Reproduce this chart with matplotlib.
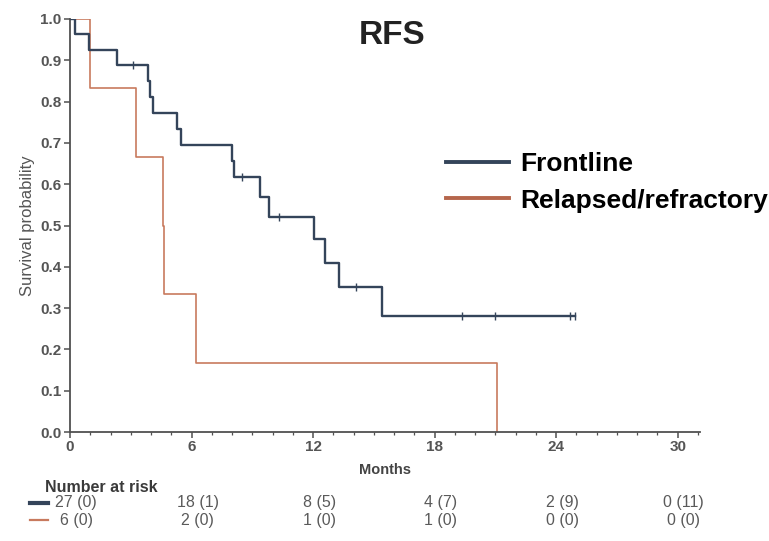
import matplotlib
matplotlib.use("Agg")
import matplotlib.pyplot as plt
from matplotlib.lines import Line2D
from matplotlib.patches import Rectangle
from matplotlib.transforms import blended_transform_factory

plt.rcParams['font.family'] = ['Liberation Sans', 'DejaVu Sans']

# Kaplan-Meier step data (months, survival probability)
front_t = [0, 0.25, 0.95, 2.3, 3.85, 3.95, 4.1, 5.3, 5.5, 8.0, 8.1, 9.4, 9.8, 12.05, 12.6, 13.3, 15.4, 24.95]
front_s = [1.0, 0.963, 0.926, 0.889, 0.850, 0.812, 0.773, 0.734, 0.696, 0.657, 0.618, 0.570, 0.520, 0.468, 0.410, 0.350, 0.280, 0.280]
front_cens = [3.1, 8.5, 10.3, 14.1, 19.35, 21.0, 24.7, 24.95]

relap_t = [0, 1.0, 3.25, 4.6, 4.65, 6.2, 21.1]
relap_s = [1.0, 0.833, 0.667, 0.5, 0.333, 0.167, 0.0]

risk_times = [0, 6, 12, 18, 24, 30]
risk_front = ["27 (0)", "18 (1)", "8 (5)", "4 (7)", "2 (9)", "0 (11)"]
risk_relap = ["6 (0)", "2 (0)", "1 (0)", "1 (0)", "0 (0)", "0 (0)"]

blue = "#34445a"
red = "#c87a5e"
grey = "#505050"

fig = plt.figure(figsize=(7.69, 5.41), dpi=100)
ax = fig.add_axes([70/769, 1 - 432/541, 630/769, 413/541])

ax.step(front_t, front_s, where="post", color=blue, lw=1.7, zorder=3)
ax.step(relap_t, relap_s, where="post", color=red, lw=1.2, zorder=2)

def surv_at(t, times, surv):
    s = surv[0]
    for ti, si in zip(times, surv):
        if ti <= t:
            s = si
    return s

ax.plot(front_cens, [surv_at(c, front_t, front_s) for c in front_cens],
        ls="none", marker="|", ms=6, mew=1.0, color=blue, zorder=4)

ax.set_xlim(0, 31.1)
ax.set_ylim(0, 1.0)
ax.set_xticks(range(0, 31, 6))
ax.set_xticks(range(0, 32), minor=True)
ax.set_yticks([i / 10 for i in range(11)])
ax.set_yticklabels([f"{i/10:.1f}" for i in range(11)])

for s in ["top", "right"]:
    ax.spines[s].set_visible(False)
for s in ["left", "bottom"]:
    ax.spines[s].set_color(grey)
    ax.spines[s].set_linewidth(1.3)
    ax.spines[s].set_clip_on(False)
ax.tick_params(which="major", length=4, width=1.1, color=grey, labelsize=11,
               labelcolor="#555555", pad=2)
ax.tick_params(which="minor", length=2.5, width=0.9, color=grey)
for lab in ax.get_xticklabels() + ax.get_yticklabels():
    lab.set_fontweight("bold")

ax.set_ylabel("Survival probability", fontsize=12, color="#555555", labelpad=4)
ax.set_xlabel("Months", fontsize=10.5, fontweight="bold", color="#444444")
ax.xaxis.set_label_coords((385 - 70) / 630, -31 / 413)

fig.text(392 / 769, 1 - 35 / 541, "RFS", ha="center", va="center",
         fontsize=24, fontweight="bold", color="#222222")

handles = [Line2D([], [], color=blue, lw=2.8), Line2D([], [], color="#b5664c", lw=2.8)]
fig.legend(handles, ["Frontline", "Relapsed/refractory"], loc="upper left",
           bbox_to_anchor=(446 / 769, 1 - 152 / 541), frameon=False,
           prop={"weight": "bold", "size": 19}, handlelength=2.4,
           handletextpad=0.4, labelspacing=0.48, borderaxespad=0, borderpad=0)

# number at risk table
tr = blended_transform_factory(ax.transData, fig.transFigure)
fig.text(45 / 769, 1 - 487 / 541, "Number at risk", fontsize=11.5, fontweight="bold",
         color="#3a3a3a", va="center")
for row, labels, col, y in [(0, risk_front, blue, 503), (1, risk_relap, red, 520)]:
    for t, lab in zip(risk_times, labels):
        ax.text(t + 0.3, 1 - y / 541, lab, transform=tr, ha="center", va="center",
                fontsize=11.5, color="#5a5a5a")
    fig.add_artist(Line2D([30 / 769, 48 / 769], [1 - y / 541] * 2, color=col,
                          lw=3 if row == 0 else 1.6, transform=fig.transFigure))

# white strip along the bottom edge
fig.add_artist(Rectangle((0, 0), 1, 12 / 541, transform=fig.transFigure,
                         facecolor="white", edgecolor="none", zorder=10))

fig.savefig("out.png", dpi=100)
